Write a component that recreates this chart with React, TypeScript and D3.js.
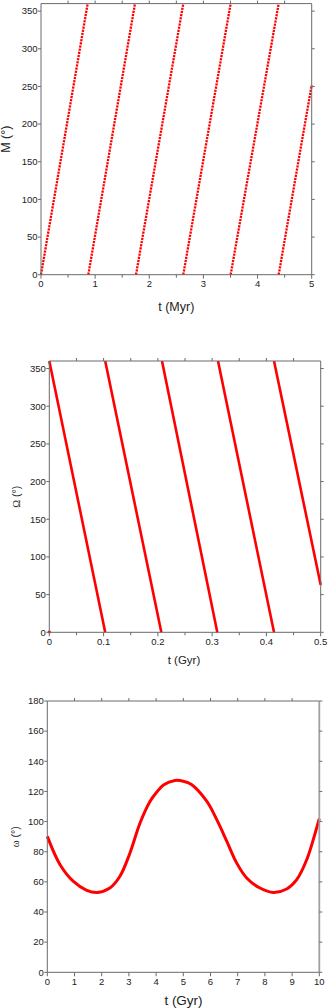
import React from 'react';
import * as d3 from 'd3';

// mean anomaly M (deg) vs t (Myr): each wrap is one segment
const mSegments: [number, number][][] = [
  [[0, 0], [0.862, 360]],
  [[0.874, 0], [1.736, 360]],
  [[1.755, 0], [2.628, 360]],
  [[2.628, 0], [3.503, 360]],
  [[3.503, 0], [4.39, 360]],
  [[4.39, 0], [5, 252]],
];

// node longitude Omega (deg) vs t (Gyr)
const omegaSegments: [number, number][][] = [
  [[0, 360], [0.103, 0]],
  [[0.103, 360], [0.2064, 0]],
  [[0.2076, 360], [0.3095, 0]],
  [[0.3108, 360], [0.414, 0]],
  [[0.414, 360], [0.5, 62.8]],
];
const omegaExtra: [number, number][] = [[0, 0]];

// argument of pericentre omega (deg) vs t (Gyr)
const wTime = [0, 0.47, 0.96, 1.45, 1.84, 2.3, 2.67, 3.04, 3.41, 3.78, 4.0, 4.27, 4.69, 5.0, 5.3, 5.86, 6.23, 6.6, 6.96, 7.33, 7.82, 8.31, 8.8, 9.17, 9.54, 9.96, 10];
const wValue = [90.2, 71.4, 60.3, 54.4, 53.0, 55.9, 63.7, 79.2, 99.1, 113.5, 119.0, 124.3, 127.3, 126.8, 124.6, 113.5, 101.3, 86.9, 72.6, 62.6, 55.9, 53.0, 55.3, 61.5, 74.8, 99.5, 102];

const mYTicks = [0, 50, 100, 150, 200, 250, 300, 350];
const mXTicks = [0, 1, 2, 3, 4, 5];
const omYTicks = [0, 50, 100, 150, 200, 250, 300, 350];
const omXTicks = [0, 0.1, 0.2, 0.3, 0.4, 0.5];
const wYTicks = [0, 20, 40, 60, 80, 100, 120, 140, 160, 180];
const wXTicks = [0, 1, 2, 3, 4, 5, 6, 7, 8, 9, 10];

const AXIS = '#6a6a6a';
const TXT = '#222';
const SANS = '"Liberation Sans", Arial, sans-serif';

type PanelProps = {
  box: { l: number; r: number; t: number; b: number };
  xDomain: [number, number];
  yDomain: [number, number];
  xTicks: number[];
  yTicks: number[];
  xMinor: number[];
  topTicks: number[];
  xFmt: (v: number) => string;
  children: (x: d3.ScaleLinear<number, number>, y: d3.ScaleLinear<number, number>) => React.ReactNode;
  rightStroke?: string;
  rightWidth?: number;
};

function Panel({ box, xDomain, yDomain, xTicks, yTicks, xMinor, topTicks, xFmt, children, rightStroke, rightWidth }: PanelProps) {
  const x = d3.scaleLinear().domain(xDomain).range([box.l, box.r]);
  const y = d3.scaleLinear().domain(yDomain).range([box.b, box.t]);
  return (
    <g>
      <defs>
        <clipPath id={`clip${box.t}`}>
          <rect x={box.l - 2} y={box.t - 1} width={box.r - box.l + 4} height={box.b - box.t + 2} />
        </clipPath>
      </defs>
      <g clipPath={`url(#clip${box.t})`}>{children(x, y)}</g>
      {/* frame */}
      <line x1={box.l} x2={box.r} y1={box.t} y2={box.t} stroke={AXIS} />
      <line x1={box.l} x2={box.r} y1={box.b} y2={box.b} stroke={AXIS} />
      <line x1={box.l} x2={box.l} y1={box.t} y2={box.b} stroke={AXIS} />
      <line x1={box.r} x2={box.r} y1={box.t} y2={box.b} stroke={rightStroke || AXIS} strokeWidth={rightWidth || 1} />
      {/* y ticks both sides */}
      {yTicks.map((v) => (
        <g key={'y' + v}>
          <line x1={box.l - 3} x2={box.l} y1={y(v)} y2={y(v)} stroke={AXIS} />
          <line x1={box.r} x2={box.r + 3} y1={y(v)} y2={y(v)} stroke={AXIS} />
          <text x={box.l - 3.5} y={y(v)} dy="0.35em" textAnchor="end" fontSize={9.5} fontFamily={SANS} fill={TXT}>
            {v}
          </text>
        </g>
      ))}
      {/* bottom ticks */}
      {xTicks.map((v) => (
        <g key={'x' + v}>
          <line x1={x(v)} x2={x(v)} y1={box.b} y2={box.b + 4} stroke={AXIS} />
          <text x={x(v)} y={box.b + 9} dy="0.35em" textAnchor="middle" fontSize={9.5} fontFamily={SANS} fill={TXT}>
            {xFmt(v)}
          </text>
        </g>
      ))}
      {xMinor.map((v) => (
        <line key={'xm' + v} x1={x(v)} x2={x(v)} y1={box.b} y2={box.b + 3} stroke={AXIS} />
      ))}
      {topTicks.map((v) => (
        <line key={'xt' + v} x1={x(v)} x2={x(v)} y1={box.t - 3} y2={box.t} stroke={AXIS} />
      ))}
    </g>
  );
}

export default function App() {
  const line = d3
    .line<[number, number]>()
    .curve(d3.curveLinear);

  const p1 = { l: 41, r: 311.7, t: 3.6, b: 274.7 };
  const p2 = { l: 49.3, r: 320.7, t: 361, b: 632.3 };
  const p3 = { l: 47.3, r: 319.3, t: 701, b: 972.3 };

  const wPoints: [number, number][] = wTime.map((t, i) => [t, wValue[i]]);

  return (
    <svg width={332} height={1008} style={{ position: 'absolute', left: 0, top: 0, background: '#fff' }}>
      <rect width={332} height={1008} fill="#fff" />

      {/* Panel 1: M vs t (Myr) */}
      <Panel
        box={p1}
        xDomain={[0, 5]}
        yDomain={[0, 360]}
        xTicks={mXTicks}
        yTicks={mYTicks}
        xMinor={[0.5, 1.5, 2.5, 3.5, 4.5]}
        topTicks={[0.5, 1, 1.5, 2, 2.5, 3, 3.5, 4, 4.5]}
        xFmt={(v) => String(v)}
      >
        {(x, y) =>
          mSegments.map((seg, i) => (
            <path
              key={i}
              d={line.x((d) => x(d[0])).y((d) => y(d[1]))(seg) || ''}
              fill="none"
              stroke="#ff0000"
              strokeWidth={2.3}
              strokeDasharray="2.2 1"
            />
          ))
        }
      </Panel>
      <text x={10.5} y={139.2} transform="rotate(-90 10.5 139.2)" textAnchor="middle" fontSize={12.5} fontFamily={SANS} fill={TXT}>
        M (°)
      </text>
      <text x={176.3} y={310.5} textAnchor="middle" fontSize={12.5} fontFamily={SANS} fill={TXT}>
        t (Myr)
      </text>

      {/* Panel 2: Omega vs t (Gyr) */}
      <Panel
        box={p2}
        xDomain={[0, 0.5]}
        yDomain={[0, 360]}
        xTicks={omXTicks}
        yTicks={omYTicks}
        xMinor={[0.05, 0.15, 0.25, 0.35, 0.45]}
        topTicks={[0.05, 0.1, 0.15, 0.2, 0.25, 0.3, 0.35, 0.4, 0.45]}
        xFmt={(v) => (v === 0 ? '0' : d3.format('.1f')(v))}
      >
        {(x, y) => (
          <g>
            {omegaSegments.map((seg, i) => (
              <path
                key={i}
                d={line.x((d) => x(d[0])).y((d) => y(d[1]))(seg) || ''}
                fill="none"
                stroke="#ff0000"
                strokeWidth={2.6}
              />
            ))}
            {omegaExtra.map((d, i) => (
              <rect key={'e' + i} x={x(d[0]) - 1.5} y={y(d[1]) - 1.5} width={3} height={3} fill="#ff0000" />
            ))}
          </g>
        )}
      </Panel>
      <text x={20.5} y={496.7} transform="rotate(-90 20.5 496.7)" textAnchor="middle" fontSize={10.5} fill={TXT}>
        <tspan fontFamily='"Liberation Serif", serif'>Ω</tspan>
        <tspan fontFamily={SANS}> (°)</tspan>
      </text>
      <text x={184} y={664} textAnchor="middle" fontSize={11.5} fontFamily={SANS} fill={TXT}>
        t (Gyr)
      </text>

      {/* Panel 3: omega vs t (Gyr) */}
      <Panel
        box={p3}
        xDomain={[0, 10]}
        yDomain={[0, 180]}
        xTicks={wXTicks}
        yTicks={wYTicks}
        xMinor={[]}
        topTicks={[1, 2, 3, 4, 5, 6, 7, 8, 9]}
        xFmt={(v) => String(v)}
        rightStroke="#a0a0a0"
        rightWidth={1.8}
      >
        {(x, y) => (
          <path
            d={d3.line<[number, number]>().x((d) => x(d[0])).y((d) => y(d[1])).curve(d3.curveCatmullRom.alpha(0.5))(wPoints) || ''}
            fill="none"
            stroke="#ff0000"
            strokeWidth={3}
            strokeLinejoin="round"
          />
        )}
      </Panel>
      <text x={19} y={836.7} transform="rotate(-90 19 836.7)" textAnchor="middle" fontSize={10.5} fill={TXT}>
        <tspan fontFamily='"Liberation Serif", serif'>ω</tspan>
        <tspan fontFamily={SANS}> (°)</tspan>
      </text>
      <text x={183.5} y={1004.5} textAnchor="middle" fontSize={13.5} fontFamily={SANS} fill={TXT}>
        t (Gyr)
      </text>
    </svg>
  );
}
